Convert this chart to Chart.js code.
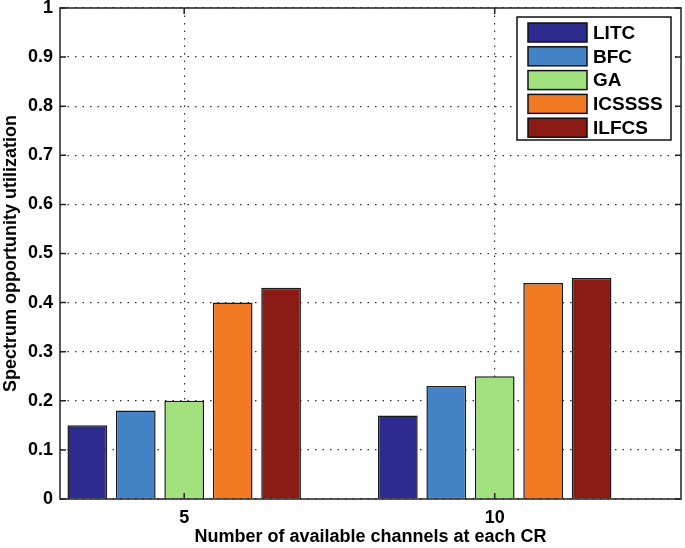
<!DOCTYPE html>
<html><head><meta charset="utf-8">
<script src="https://cdn.jsdelivr.net/npm/chart.js@4/dist/chart.umd.min.js"></script>
<style>html,body{margin:0;padding:0;background:#fff}#wrap{width:685px;height:548px}</style>
</head><body><div id="wrap"><canvas id="c"></canvas></div>
<script>
// categories (positions 1, 2 on the MATLAB-like axis)
const groupPos = [1, 2];
const groupLabels = ['5', '10'];
const seriesNames = ['LITC', 'BFC', 'GA', 'ICSSSS', 'ILFCS'];
const litc = [0.15, 0.17];
const bfc = [0.18, 0.23];
const ga = [0.20, 0.25];
const icssss = [0.40, 0.44];
const ilfcs = [0.43, 0.45];
const yTicks = [0, 0.1, 0.2, 0.3, 0.4, 0.5, 0.6, 0.7, 0.8, 0.9, 1];

const seriesValues = [litc, bfc, ga, icssss, ilfcs];
const seriesColors = ['#2e2b8e', '#4383c6', '#a2e27e', '#f27a22', '#8a1a13'];
const FONT = 'Liberation Sans, Arial, Helvetica, sans-serif';

const boxPlugin = {
  id: 'matlabBox',
  afterDraw(chart) {
    const { ctx, chartArea: a, scales } = chart;
    ctx.save();
    ctx.strokeStyle = '#222';
    ctx.lineWidth = 1.5;
    ctx.strokeRect(a.left, a.top, a.right - a.left, a.bottom - a.top);
    ctx.beginPath();
    yTicks.forEach(v => {
      const y = scales.y.getPixelForValue(v);
      ctx.moveTo(a.left, y); ctx.lineTo(a.left + 6, y);
      ctx.moveTo(a.right, y); ctx.lineTo(a.right - 6, y);
    });
    groupPos.forEach(v => {
      const x = scales.x.getPixelForValue(v);
      ctx.moveTo(x, a.bottom); ctx.lineTo(x, a.bottom - 6);
      ctx.moveTo(x, a.top); ctx.lineTo(x, a.top + 6);
    });
    ctx.stroke();

    // legend box
    const lx = 517, ly = 17, lw = 154, lh = 123;
    ctx.fillStyle = '#fff';
    ctx.fillRect(lx, ly, lw, lh);
    ctx.strokeStyle = '#111';
    ctx.lineWidth = 1.5;
    ctx.strokeRect(lx, ly, lw, lh);
    ctx.font = 'bold 19px ' + FONT;
    ctx.textBaseline = 'middle';
    chart.data.datasets.forEach((ds, i) => {
      const cy = 32.5 + i * 23.8;
      ctx.fillStyle = ds.backgroundColor;
      ctx.fillRect(528, cy - 9.5, 59, 19);
      ctx.strokeStyle = '#111';
      ctx.lineWidth = 1.5;
      ctx.strokeRect(528, cy - 9.5, 59, 19);
      ctx.fillStyle = '#000';
      ctx.fillText(ds.label, 593, cy + 1);
    });
    ctx.restore();
  }
};

new Chart(document.getElementById('c'), {
  type: 'bar',
  plugins: [boxPlugin],
  data: {
    datasets: seriesNames.map((name, i) => ({
      label: name,
      data: groupPos.map((x, j) => ({ x, y: seriesValues[i][j] })),
      backgroundColor: seriesColors[i],
      borderColor: '#1a1a1a',
      borderWidth: 1.5,
      categoryPercentage: 0.78,
      barPercentage: 0.82,
    }))
  },
  options: {
    responsive: true,
    maintainAspectRatio: false,
    animation: false,
    layout: { padding: { left: 0, right: 4, top: 8, bottom: 0 } },
    plugins: { legend: { display: false }, tooltip: { enabled: false } },
    scales: {
      x: {
        type: 'linear',
        min: 0.6, max: 2.6,
        offset: false,
        afterBuildTicks(scale) { scale.ticks = groupPos.map(v => ({ value: v })); },
        afterFit(scale) { scale.height = 49; },
        ticks: {
          color: '#000',
          padding: 8,
          font: { family: FONT, size: 18, weight: 'bold' },
          callback: v => groupLabels[groupPos.indexOf(v)] ?? ''
        },
        grid: { color: '#333', lineWidth: 1.2, drawTicks: false, offset: false },
        border: { display: false, dash: [1.5, 6] },
        title: {
          display: true,
          text: 'Number of available channels at each CR',
          color: '#000',
          font: { family: FONT, size: 18, weight: 'bold' },
          padding: { top: 0, bottom: 0 }
        }
      },
      y: {
        min: 0, max: 1,
        afterBuildTicks(scale) { scale.ticks = yTicks.map(v => ({ value: v })); },
        afterFit(scale) { scale.width = 60; scale.paddingTop = 0; scale.paddingBottom = 0; },
        ticks: {
          color: '#000',
          padding: 7,
          font: { family: FONT, size: 18, weight: 'bold' },
          callback: v => String(v)
        },
        grid: { color: '#333', lineWidth: 1.2, drawTicks: false },
        border: { display: false, dash: [1.5, 6] },
        title: {
          display: true,
          text: 'Spectrum opportunity utilization',
          color: '#000',
          font: { family: FONT, size: 18, weight: 'bold' },
          padding: { top: 0, bottom: 0 }
        }
      }
    }
  }
});
</script>
</body></html>
